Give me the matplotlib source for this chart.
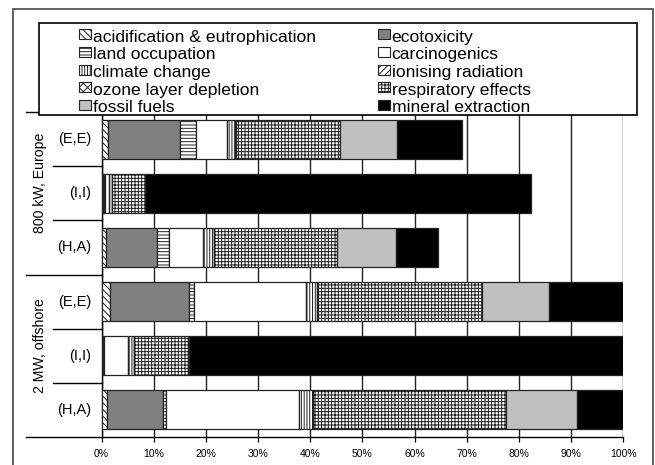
import matplotlib
matplotlib.use("Agg")
import matplotlib.pyplot as plt
from matplotlib.patches import Rectangle
from matplotlib.lines import Line2D

plt.rcParams['font.family'] = ['Liberation Sans', 'DejaVu Sans']
plt.rcParams['hatch.linewidth'] = 0.7
plt.rcParams['hatch.color'] = '#222222'

# categories, top to bottom
categories = ['(E,E)', '(I,I)', '(H,A)', '(E,E)', '(I,I)', '(H,A)']
groups = ['800 kW, Europe', '2 MW, offshore']

# share of each impact category in %, one value per bar
acidification = [1.2, 0.2, 0.8, 1.7, 0.1, 1.1]
ecotoxicity = [13.8, 0.3, 9.8, 15.0, 0.2, 10.6]
land_occupation = [3.2, 0.1, 2.3, 1.0, 0.1, 0.7]
carcinogenics = [5.8, 0.8, 6.6, 21.4, 4.7, 25.4]
climate_change = [1.5, 0.6, 2.0, 2.2, 1.2, 2.7]
ionising_radiation = [0.1, 0.0, 0.05, 0.05, 0.0, 0.05]
ozone_depletion = [0.1, 0.0, 0.05, 0.05, 0.0, 0.05]
respiratory = [20.0, 6.3, 23.6, 31.6, 10.3, 37.0]
fossil_fuels = [10.9, 0.1, 11.2, 12.8, 0.1, 13.6]
mineral_extraction = [12.5, 74.0, 8.0, 14.2, 83.3, 8.8]

series = [
    ('acidification & eutrophication', acidification, 'white', '\\\\\\\\\\'),
    ('ecotoxicity', ecotoxicity, '#808080', None),
    ('land occupation', land_occupation, 'white', '-----'),
    ('carcinogenics', carcinogenics, 'white', None),
    ('climate change', climate_change, 'white', '||||||'),
    ('ionising radiation', ionising_radiation, 'white', '/////'),
    ('ozone layer depletion', ozone_depletion, 'white', 'xxxx'),
    ('respiratory effects', respiratory, 'white', '+++++'),
    ('fossil fuels', fossil_fuels, '#C0C0C0', None),
    ('mineral extraction', mineral_extraction, 'black', None),
]

W, H = 655, 465
fig = plt.figure(figsize=(6.55, 4.65), dpi=100)
x0, x1, ytop, ybot = 101.5, 623.3, 112, 437
ax = fig.add_axes([x0 / W, 1 - ybot / H, (x1 - x0) / W, (ybot - ytop) / H])

ypos = list(range(len(categories)))
left = [0.0] * len(categories)
for name, vals, color, hatch in series:
    ax.barh(ypos, vals, left=left, height=0.72, color=color, hatch=hatch,
            edgecolor='#222222', linewidth=0.9, zorder=3)
    left = [a + b for a, b in zip(left, vals)]

ax.set_xlim(0, 100)
ax.set_ylim(len(categories) - 0.5, -0.5)
ax.set_xticks(range(0, 101, 10))
ax.set_xticklabels([f'{v}%' for v in range(0, 101, 10)], fontsize=7.5)
ax.tick_params(axis='x', direction='out', length=3.3, width=0.9, pad=5, color='black')
ax.set_yticks([])
ax.grid(axis='x', color='#222222', linewidth=1.0, zorder=0)
ax.set_axisbelow(True)
for s in ['top', 'right']:
    ax.spines[s].set_visible(False)
for s in ['left', 'bottom']:
    ax.spines[s].set_color('black')
    ax.spines[s].set_linewidth(1.0)

# category labels and separators
tr = ax.get_yaxis_transform()
for i, lab in enumerate(categories):
    ax.text(-0.019, i, lab, transform=tr, ha='right', va='center', fontsize=10.5)
for b in [-0.5, 2.5, 5.5]:
    ax.add_line(Line2D([-0.145, 0], [b, b], transform=tr, color='black', lw=1.0, clip_on=False))
for b in [0.5, 1.5, 3.5, 4.5]:
    ax.add_line(Line2D([-0.092, 0], [b, b], transform=tr, color='black', lw=1.0, clip_on=False))
for g, yc in zip(groups, [0.81, 3.81]):
    ax.text(-0.118, yc, g, transform=tr, rotation=90, ha='center', va='center', fontsize=10.2)

# outer chart border
fig.add_artist(Rectangle((12.7 / W, -0.05), (652.7 - 12.7) / W, 1.05 - 9.3 / H,
                         transform=fig.transFigure, fill=False, edgecolor='#444444', lw=1.2))

# legend box
lx0, lx1, ly0, ly1 = 38.5, 637.3, 23.3, 115
fig.add_artist(Rectangle((lx0 / W, 1 - ly1 / H), (lx1 - lx0) / W, (ly1 - ly0) / H,
                         transform=fig.transFigure, facecolor='white', edgecolor='black',
                         lw=1.2, zorder=5))
row_y = [34.3, 52.0, 69.7, 87.4, 105.1]
col_x = [79.3, 377.7]
for k, (name, vals, color, hatch) in enumerate(series):
    r, c = k // 2, k % 2
    hx, hy = col_x[c], row_y[r]
    fig.add_artist(Rectangle((hx / W, 1 - (hy + 5) / H), 12 / W, 10 / H,
                             transform=fig.transFigure, facecolor=color, hatch=hatch,
                             edgecolor='#222222', lw=0.8, zorder=6))
    fig.text((hx + 14) / W, 1 - (hy + 7.4) / H, name, ha='left', va='baseline',
             fontsize=12.6, zorder=7)

fig.savefig('out.png', dpi=100, facecolor='white')
